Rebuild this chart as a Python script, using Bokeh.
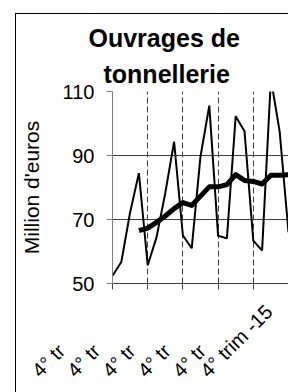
import math
from bokeh.plotting import figure
from bokeh.models import Range1d, FixedTicker, Title
from bokeh.embed import file_html
from bokeh.resources import INLINE

# ---- data ----
quarters = list(range(21))
values = [52.4, 56.7, 72.2, 84.5, 55.7, 64.4, 78.3, 94.3, 65.0, 61.0, 89.7,
          105.6, 64.9, 64.1, 102.3, 97.6, 63.4, 60.3, 114.0, 97.4, 66.0]
ma_quarters = list(range(3, 21))
moving_avg = [66.5, 67.3, 69.1, 71.1, 73.4, 75.3, 74.4, 77.3, 80.2, 80.2,
              80.9, 84.0, 82.2, 81.9, 81.1, 83.8, 83.8, 84.0]
x_ticks = [0, 4, 8, 12, 16, 20]
x_labels = ["4° tr", "4° tr", "4° tr", "4° tr", "4° tr", "4° trim -15"]
y_ticks = [50, 70, 90, 110]
title_lines = ["Ouvrages de", "tonnellerie"]
y_title = "Million d'euros"

FONT = "Liberation Sans"
W, H = 288, 392
FL, FT, FB = 112, 91, 107          # frame borders (left, top, bottom) in px

# chart-area border (left and top edges) painted behind a transparent canvas
border_css = {
    "background-image": "linear-gradient(#000, #000), linear-gradient(#000, #000)",
    "background-size": "100% 1px, 1px 100%",
    "background-position": "15px 13px, 15px 13px",
    "background-repeat": "no-repeat",
}

p = figure(width=W, height=H, output_backend="svg", toolbar_location=None,
           x_range=Range1d(x_ticks[0], x_ticks[-1]),
           y_range=Range1d(y_ticks[0], y_ticks[-1]),
           min_border_left=FL, min_border_right=0, min_border_top=FT,
           min_border_bottom=FB, styles=border_css,
           background_fill_color=None, border_fill_color=None,
           outline_line_color=None)

# titles (bottom line added first: later ones stack above)
p.add_layout(Title(text=title_lines[1], align="left", offset=-9, standoff=7,
                   text_font=FONT, text_font_size="25px",
                   text_font_style="bold", text_color="black"), "above")
p.add_layout(Title(text=title_lines[0], align="left", offset=-24, standoff=5,
                   text_font=FONT, text_font_size="25px",
                   text_font_style="bold", text_color="black"), "above")

# x axis: rotated labels; the truncated ones are padded with no-break spaces
# so that every label has the same length as the full one
ADV = {"4": 556, "°": 400, " ": 278, "t": 278, "r": 333, "i": 222, "m": 833,
       "-": 333, "1": 556, "5": 556}
NB = "\u00a0"
def adv(s):
    return sum(ADV.get(c, 556) for c in s)
full = max(adv(s) for s in x_labels)
padded = [s + NB * (round((full - adv(s)) / 278) + 3) for s in x_labels]

p.xaxis.ticker = FixedTicker(ticks=x_ticks)
p.xaxis.major_label_overrides = {t: lab for t, lab in zip(x_ticks, padded)}
p.xaxis.major_label_orientation = math.pi / 4
p.xaxis.major_label_text_font = FONT
p.xaxis.major_label_text_font_size = "20px"
p.xaxis.major_label_text_color = "black"
p.xaxis.major_label_standoff = 7
p.xaxis.axis_line_color = "#404040"
p.xaxis.major_tick_line_color = "#404040"
p.xaxis.major_tick_out = 6
p.xaxis.major_tick_in = 0
p.xaxis.minor_tick_line_color = None

p.yaxis.ticker = FixedTicker(ticks=y_ticks)
p.yaxis.axis_label = y_title
p.yaxis.axis_label_text_font = FONT
p.yaxis.axis_label_text_font_size = "21px"
p.yaxis.axis_label_text_font_style = "normal"
p.yaxis.axis_label_text_color = "black"
p.yaxis.axis_label_standoff = 17
p.yaxis.major_label_text_font = FONT
p.yaxis.major_label_text_font_size = "20px"
p.yaxis.major_label_text_color = "black"
p.yaxis.major_label_standoff = 12
p.yaxis.axis_line_color = "#808080"
p.yaxis.major_tick_line_color = "#808080"
p.yaxis.major_tick_out = 6
p.yaxis.major_tick_in = 0
p.yaxis.minor_tick_line_color = None

# grids
p.ygrid.ticker = FixedTicker(ticks=y_ticks)
p.ygrid.grid_line_color = "#404040"
p.ygrid.grid_line_width = 1
p.xgrid.ticker = FixedTicker(ticks=x_ticks[1:-1])
p.xgrid.grid_line_color = "#404040"
p.xgrid.grid_line_dash = "6 3"
p.xgrid.grid_line_width = 1

# series
p.line(quarters, values, line_color="black", line_width=2)
p.line(ma_quarters, moving_avg, line_color="black", line_width=5, line_join="round")

open("out.html", "w").write(file_html(p, INLINE))
